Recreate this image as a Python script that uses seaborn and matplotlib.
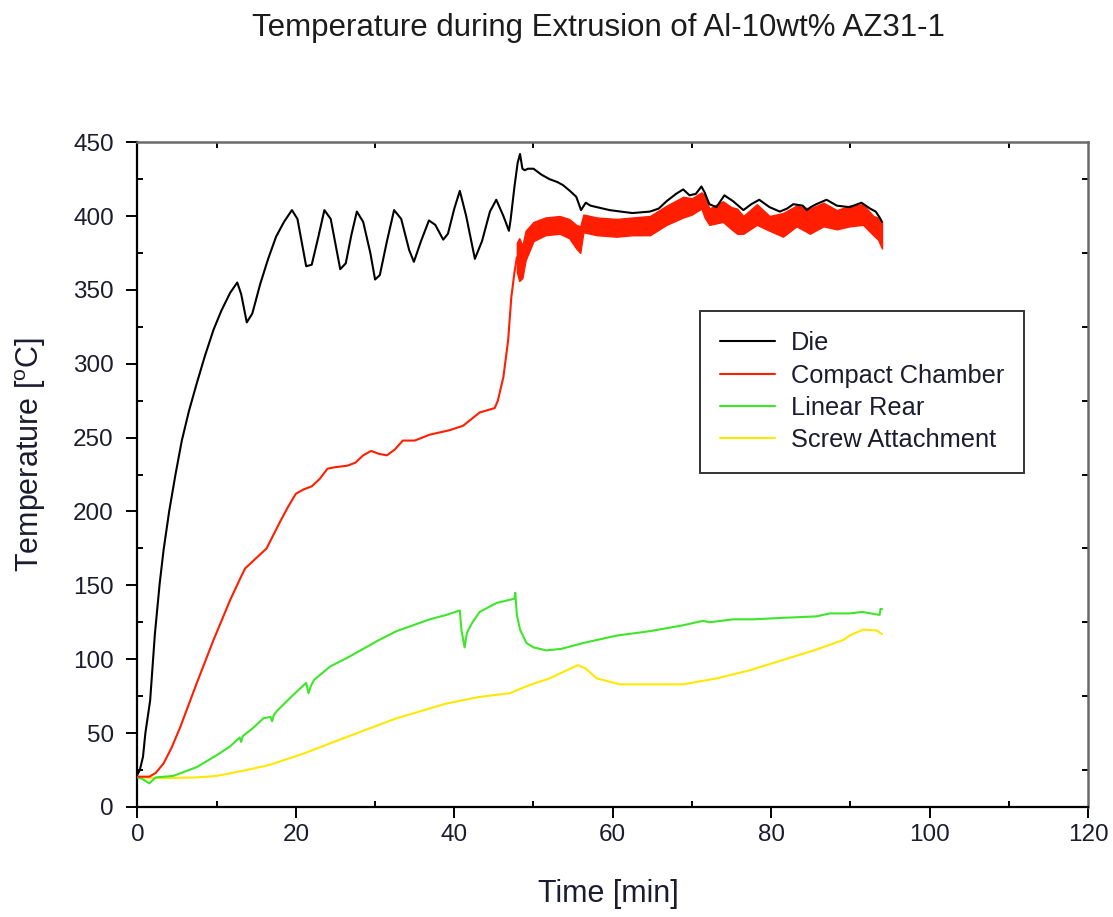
import matplotlib
matplotlib.use("Agg")
import matplotlib.pyplot as plt
import seaborn as sns
import pandas as pd
from matplotlib.ticker import MultipleLocator

# ---------------- data ----------------
die_t = [0, 0.3, 0.7, 1.0, 1.6, 2.2, 2.8, 3.3, 4.0, 4.8,
         5.6, 6.5, 7.5, 8.5, 9.6, 10.6, 11.7, 12.6, 13.1, 13.8,
         14.5, 15.5, 16.5, 17.5, 18.5, 19.5, 20.2, 21.3, 22.0, 22.8,
         23.6, 24.4, 25.6, 26.3, 27.0, 27.7, 28.5, 29.4, 30.0, 30.6,
         31.5, 32.4, 33.3, 34.3, 34.9, 35.8, 36.8, 37.6, 38.6, 39.2,
         40.0, 40.7, 41.5, 42.6, 43.5, 44.5, 45.3, 46.2, 46.9, 47.1,
         47.6, 48.0, 48.3, 48.6, 48.9, 49.3, 50.0, 51.0, 52.0, 53.0,
         53.7, 54.6, 55.4, 56.0, 56.6, 57.2, 58.0, 59.6, 61.0, 62.5,
         64.7, 65.8, 66.8, 68.0, 68.9, 69.7, 70.5, 71.2, 71.6, 72.2,
         73.1, 74.1, 75.2, 76.5, 77.5, 78.5, 79.8, 81.1, 82.0, 82.8,
         84.0, 84.5, 85.0, 85.7, 87.0, 88.3, 89.9, 91.4, 92.5, 93.2,
         93.7, 94.0]
die_T = [22, 25, 34, 50, 72, 117, 151, 174, 200, 225,
         248, 268, 287, 305, 323, 336, 348, 355, 347, 328,
         334, 354, 371, 386, 396, 404, 398, 366, 367, 385,
         404, 398, 364, 368, 387, 403, 396, 375, 357, 360,
         383, 404, 398, 377, 369, 383, 397, 394, 384, 388,
         405, 417, 400, 371, 383, 403, 411, 400, 390, 397,
         420, 436, 442, 432, 431, 432, 432, 428, 425, 423,
         421, 417, 413, 404, 409, 407, 406, 404, 403, 402,
         403, 405, 410, 415, 418, 414, 415, 420, 416, 408,
         406, 414, 410, 404, 408, 411, 406, 403, 405, 408,
         407, 404, 406, 408, 411, 407, 406, 409, 405, 403,
         399, 396]

chamber_t = [0, 1.5, 2.3, 3.3, 4.3, 5.4, 7.5, 9.6, 11.7, 13.0,
             13.6, 14.6, 16.3, 18.0, 19.0, 20.0, 21.0, 22.0, 23.0, 24.0,
             25.0, 26.5, 27.5, 28.5, 29.5, 30.5, 31.5, 32.5, 33.5, 35.0,
             36.9, 39.4, 41.1, 43.2, 45.1, 45.5, 46.2, 46.8, 47.2, 47.6,
             47.9]
chamber_T = [20.5, 20.5, 23, 29.5, 40, 54, 84, 113, 140, 155,
             161.5, 166.5, 175, 193, 203, 212, 215, 217, 222, 229,
             230, 231, 233, 238, 241, 239, 238, 242, 248, 248,
             252, 255, 258, 267, 270, 275, 291, 316, 345, 362,
             372]
# noisy part of the chamber signal: lower / upper envelope
chamber_band_t = [47.9, 48.2, 48.6, 49.0, 50.0, 51.5, 53.3, 54.5, 55.4, 55.9,
                  56.3, 58.0, 60.5, 62.5, 64.7, 66.8, 68.9, 70.0, 71.2, 71.6,
                  72.2, 73.9, 75.0, 75.7, 76.5, 78.2, 79.8, 81.5, 83.2, 84.9,
                  86.6, 88.3, 89.9, 91.6, 92.9, 93.5, 94.0]
chamber_hi = [382, 385, 380, 390, 396, 399, 400, 398, 394, 393,
              401, 399, 398, 399, 400, 407, 413, 412, 416, 414,
              405, 410, 406, 405, 400, 408, 400, 402, 407, 405,
              409, 404, 407, 408, 400, 399, 396]
chamber_lo = [362, 356, 358, 370, 383, 387, 388, 385, 378, 375,
              389, 387, 386, 387, 387, 394, 399, 401, 405, 399,
              394, 396, 391, 388, 388, 394, 390, 386, 393, 388,
              393, 391, 393, 394, 387, 384, 378]

rear_t = [0, 0.6, 1.2, 1.5, 2.3, 4.5, 6.0, 7.5, 10.0, 11.7,
          12.9, 13.1, 13.3, 14.5, 15.9, 16.8, 17.0, 17.2, 17.6, 19.5,
          21.3, 21.6, 21.9, 22.3, 24.3, 26.5, 28.5, 30.5, 32.7, 34.8,
          36.9, 39.0, 40.7, 40.9, 41.3, 41.6, 42.3, 43.2, 45.3, 47.6,
          47.7, 47.9, 48.3, 49.1, 50.0, 51.6, 53.5, 56.3, 60.5, 64.7,
          68.9, 71.4, 72.2, 75.2, 77.7, 81.5, 85.7, 87.4, 89.9, 91.5,
          93.7, 93.8, 94.0]
rear_T = [20, 19, 17, 16, 20, 21, 24, 27, 35, 41,
          47, 44, 48, 53, 60, 61, 58, 62, 65, 75,
          84, 77, 82, 86, 95, 101, 107, 113, 119, 123,
          127, 130, 133, 120, 108, 118, 125, 132, 138, 141,
          145, 130, 120, 111, 108, 106, 107, 111, 116, 119,
          123, 126, 125, 127, 127, 128, 129, 131, 131, 132,
          130, 134, 134]

screw_t = [0, 3, 7.5, 10, 13.8, 16.7, 20.9, 26.0, 32.7, 39.0,
           43.2, 47.0, 49.5, 52.0, 55.6, 56.5, 58.0, 60.9, 68.9, 73.1,
           77.3, 81.5, 85.7, 89.1, 89.9, 91.6, 93.3, 94.0]
screw_T = [20, 19.5, 20, 21, 25, 28.5, 36, 46.5, 60, 70,
           74.5, 77, 82.5, 87, 96, 94, 87, 83, 83, 87,
           92.5, 99.5, 106.5, 113, 116, 120, 119.5, 117]

series_names = ["Die", "Compact Chamber", "Linear Rear", "Screw Attachment"]
colors = ["#000000", "#ff1e00", "#3ee62a", "#ffe800"]

x_ticks = [0, 20, 40, 60, 80, 100, 120]
y_ticks = [0, 50, 100, 150, 200, 250, 300, 350, 400, 450]

# ---------------- style ----------------
sns.set_theme(style="white")
plt.rcParams["font.family"] = ["Liberation Sans", "DejaVu Sans"]
plt.rcParams["mathtext.fontset"] = "custom"
plt.rcParams["mathtext.rm"] = "Liberation Sans"
plt.rcParams["mathtext.it"] = "Liberation Sans:italic"

fig = plt.figure(figsize=(11.13, 9.17), dpi=100)
ax = fig.add_axes([0.1235, 0.1200, 0.8540, 0.7250])

lw = 1.5
sns.lineplot(x=screw_t, y=screw_T, ax=ax, color=colors[3], lw=lw,
             sort=False, estimator=None, label=series_names[3], zorder=2)
sns.lineplot(x=rear_t, y=rear_T, ax=ax, color=colors[2], lw=lw,
             sort=False, estimator=None, label=series_names[2], zorder=3)
sns.lineplot(x=chamber_t, y=chamber_T, ax=ax, color=colors[1], lw=lw,
             sort=False, estimator=None, label=series_names[1], zorder=4)
ax.fill_between(chamber_band_t, chamber_lo, chamber_hi, color=colors[1],
                lw=1.0, zorder=4)
sns.lineplot(x=die_t, y=die_T, ax=ax, color=colors[0], lw=lw,
             sort=False, estimator=None, label=series_names[0], zorder=5)

ax.set_xlim(0, 120)
ax.set_ylim(0, 450)
ax.set_xticks(x_ticks)
ax.set_yticks(y_ticks)
ax.xaxis.set_minor_locator(MultipleLocator(10))
ax.yaxis.set_minor_locator(MultipleLocator(25))

for side in ["left", "bottom"]:
    ax.spines[side].set_color("black")
    ax.spines[side].set_linewidth(1.6)
for side in ["top", "right"]:
    ax.spines[side].set_color("#6a6a6a")
    ax.spines[side].set_linewidth(1.8)

ax.tick_params(which="major", direction="out", length=8, width=1.4,
               left=True, bottom=True, top=False, right=False,
               labelsize=17.5, colors="black", labelcolor="#1c1c30")
ax.tick_params(axis="y", which="major", pad=9)
ax.tick_params(axis="x", which="major", pad=4)
ax.tick_params(which="minor", direction="in", length=4, width=1.4,
               left=True, bottom=True, top=True, right=True, colors="black")

ax.set_xlabel("Time [min]", fontsize=22, color="#1c1c30")
ax.set_ylabel("Temperature [$^{\\mathrm{o}}$C]", fontsize=22, color="#1c1c30")
ax.xaxis.set_label_coords(0.495, -0.108)
ax.yaxis.set_label_coords(-0.094, 0.53)

fig.text(0.538, 0.969, "Temperature during Extrusion of Al-10wt% AZ31-1",
         ha="center", va="center", fontsize=22.5, color="#1c1c1c")

handles, labels = ax.get_legend_handles_labels()
order = [labels.index(n) for n in series_names]
leg = ax.legend([handles[i] for i in order], [labels[i] for i in order],
                loc="upper left", bbox_to_anchor=(0.5918, 0.7463),
                frameon=True, fancybox=False, shadow=False,
                fontsize=18.3, handlelength=2.15, handletextpad=0.62,
                labelspacing=0.33, borderpad=0.8, borderaxespad=0.0)
leg.get_frame().set_edgecolor("black")
leg.get_frame().set_linewidth(1.4)
for t in leg.get_texts():
    t.set_color("#1c1c30")

fig.savefig("out.png", dpi=100)
